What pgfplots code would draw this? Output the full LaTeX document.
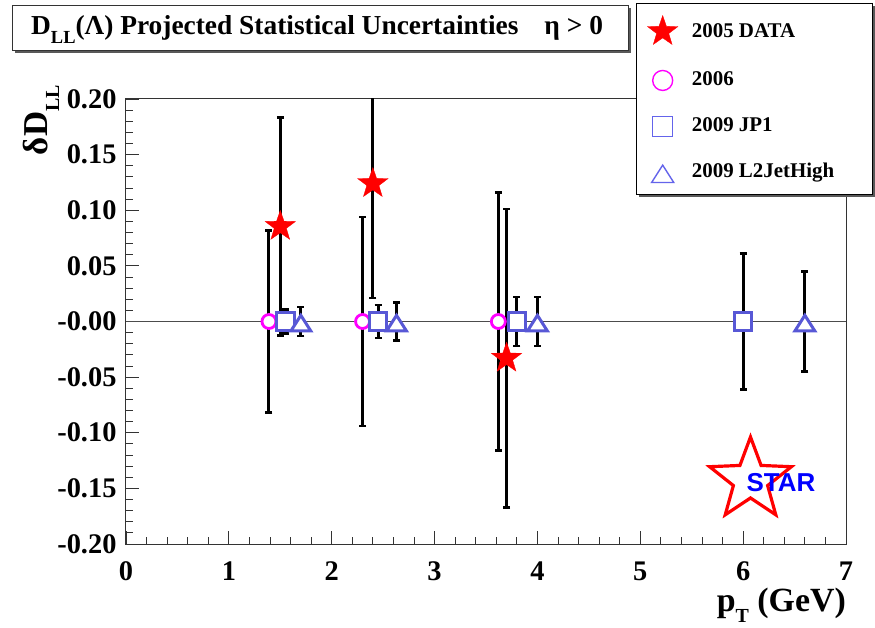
\documentclass[border=0pt]{standalone}
\usepackage{fontspec}
\setmainfont{Liberation Serif}
\newfontfamily\logofont{Liberation Sans}
\usepackage{pgfplots}
\pgfplotsset{compat=1.18}
\usetikzlibrary{shadows}

\definecolor{rootblue}{RGB}{88,88,214}
\definecolor{legblue}{RGB}{100,100,235}
\definecolor{rootmag}{RGB}{255,0,255}

\pgfdeclareplotmark{fstar}{%
 \pgfpathmoveto{\pgfpointpolar{90}{\pgfplotmarksize}}%
 \pgfpathlineto{\pgfpointpolar{126}{0.4\pgfplotmarksize}}%
 \pgfpathlineto{\pgfpointpolar{162}{\pgfplotmarksize}}%
 \pgfpathlineto{\pgfpointpolar{198}{0.4\pgfplotmarksize}}%
 \pgfpathlineto{\pgfpointpolar{234}{\pgfplotmarksize}}%
 \pgfpathlineto{\pgfpointpolar{270}{0.4\pgfplotmarksize}}%
 \pgfpathlineto{\pgfpointpolar{306}{\pgfplotmarksize}}%
 \pgfpathlineto{\pgfpointpolar{342}{0.4\pgfplotmarksize}}%
 \pgfpathlineto{\pgfpointpolar{18}{\pgfplotmarksize}}%
 \pgfpathlineto{\pgfpointpolar{54}{0.4\pgfplotmarksize}}%
 \pgfpathclose
 \pgfusepathqfillstroke}

\pgfdeclareplotmark{rtri}{%
 \pgfpathmoveto{\pgfqpoint{0pt}{0.65\pgfplotmarksize}}%
 \pgfpathlineto{\pgfqpoint{-1.05\pgfplotmarksize}{-\pgfplotmarksize}}%
 \pgfpathlineto{\pgfqpoint{1.05\pgfplotmarksize}{-\pgfplotmarksize}}%
 \pgfpathclose
 \pgfusepathqfillstroke}

\pgfplotsset{myleg/.style={legend image code/.code={\draw[##1] plot coordinates {(15bp,0bp)};}}}

\pgfplotstableread{
x y e
1.5 0.0855 0.098
2.4 0.124 0.103
3.7 -0.033 0.134
}\tabstar
\pgfplotstableread{
x y e
1.39 0 0.082
2.30 0 0.094
3.62 0 0.116
}\tabcirc
\pgfplotstableread{
x y e
1.55 0 0.011
2.45 0 0.015
3.80 0 0.022
6.00 0 0.061
}\tabsq
\pgfplotstableread{
x y e
1.70 0 0.013
2.63 0 0.017
4.00 0 0.022
6.60 0 0.045
}\tabtri

\begin{document}
\begin{tikzpicture}
\path[use as bounding box] (0,0) rectangle (875bp,628bp);
\begin{axis}[
  at={(126bp,84bp)}, anchor=south west, scale only axis,
  width=720bp, height=445bp,
  xmin=0, xmax=7, ymin=-0.2, ymax=0.2,
  axis line style={line width=1bp, black!80},
  xtick={0,1,2,3,4,5,6,7}, xticklabels={0,1,2,3,4,5,6,7},
  minor x tick num=4,
  ytick={-0.2,-0.15,-0.1,-0.05,0,0.05,0.1,0.15,0.2},
  yticklabels={-0.20,-0.15,-0.10,-0.05,-0.00,0.05,0.10,0.15,0.20},
  minor y tick num=4,
  tick pos=left, tick align=inside,
  major tick length=13bp, minor tick length=7bp,
  every tick/.style={black!80, line width=0.8bp},
  ticklabel style={font=\bfseries\fontsize{28.5}{28.5}\selectfont},
  xticklabel style={yshift=-14bp},
  yticklabel style={xshift=-6bp},
  xlabel={p\raisebox{-11bp}{\fontsize{20}{20}\selectfont T} (GeV)},
  xlabel style={at={(axis description cs:1,-0.152)}, anchor=base east, inner sep=0pt, font=\bfseries\fontsize{34}{34}\selectfont},
  legend style={at={(axis description cs:0.7083,1.2157)}, anchor=north west,
    draw=black, line width=1bp, fill=white,
    drop shadow={shadow xshift=2.5bp, shadow yshift=-2.5bp, fill=black!65, opacity=1},
    inner xsep=11bp, inner ysep=12bp, row sep=26bp,
    font=\bfseries\fontsize{21}{21}\selectfont,
    nodes={text height=15bp, text depth=4bp, inner sep=0pt},
    /tikz/every odd column/.append style={column sep=14bp}},
  legend cell align=left,
  error bars/error bar style={line width=3bp, black},
  error bars/error mark options={rotate=90, black, line width=2.5bp, mark size=3.5bp},
]
\addplot[forget plot, line width=1bp, black!70] coordinates {(0,0) (7,0)};

\addplot[forget plot, only marks, mark=*, mark size=7bp,
  mark options={draw=rootmag, fill=white, line width=2.8bp},
  error bars/.cd, y dir=both, y explicit]
  table[x=x, y=y, y error=e] {\tabcirc};
\addplot[forget plot, only marks, mark=fstar, mark size=16bp,
  mark options={draw=red, fill=red, line width=0.3bp},
  error bars/.cd, y dir=both, y explicit]
  table[x=x, y=y, y error=e] {\tabstar};
\addplot[forget plot, only marks, mark=square*, mark size=8.7bp,
  mark options={draw=rootblue, fill=white, line width=3.2bp},
  error bars/.cd, y dir=both, y explicit]
  table[x=x, y=y, y error=e] {\tabsq};
\addplot[forget plot, only marks, mark=rtri, mark size=9.5bp,
  mark options={draw=rootblue, fill=white, line width=3bp},
  error bars/.cd, y dir=both, y explicit]
  table[x=x, y=y, y error=e] {\tabtri};

\addlegendimage{only marks, mark=fstar, mark size=16bp, mark options={draw=red, fill=red, line width=0.3bp}, myleg}
\addlegendentry{2005 DATA}
\addlegendimage{only marks, mark=o, mark size=10bp, mark options={draw=rootmag, line width=1.4bp}, myleg}
\addlegendentry{2006}
\addlegendimage{only marks, mark=square, mark size=10bp, mark options={draw=legblue, line width=1.4bp}, myleg}
\addlegendentry{2009 JP1}
\addlegendimage{only marks, mark=rtri, mark size=10.5bp, mark options={draw=legblue, fill=white, line width=1.4bp}, myleg}
\addlegendentry{\makebox[170bp][l]{2009 L2JetHigh}}
\end{axis}

% y axis label
\node[rotate=90, anchor=base east, inner sep=0pt, font=\bfseries\fontsize{35}{35}\selectfont]
  at (47bp,543bp) {δD\raisebox{-12bp}{\fontsize{20}{20}\selectfont LL}};

% title box
\node[draw=black!80, line width=1bp, fill=white, minimum width=616bp, minimum height=45bp, inner sep=0pt,
  drop shadow={shadow xshift=2.5bp, shadow yshift=-2.5bp, fill=black!65, opacity=1}]
  at (320bp,599.5bp) {};
\node[anchor=base west, inner sep=0pt, font=\bfseries\fontsize{27.5}{27.5}\selectfont]
  at (31bp,593bp) {D\raisebox{-0.3em}{\fontsize{18.5}{18.5}\selectfont LL}(Λ) Projected Statistical Uncertainties\hspace{26bp}η > 0};

% STAR logo
\draw[red, line width=3.2bp, line join=miter] (750.5bp,148bp)
  +(90:43bp) -- +(126:18bp) -- +(162:43bp) -- +(198:18bp) -- +(234:43bp)
  -- +(270:18bp) -- +(306:43bp) -- +(342:18bp) -- +(18:43bp) -- +(54:18bp) -- cycle;
\node[text=blue, font=\logofont\bfseries\fontsize{26}{26}\selectfont, inner sep=0pt] at (781bp,145bp) {STAR};
\end{tikzpicture}
\end{document}
